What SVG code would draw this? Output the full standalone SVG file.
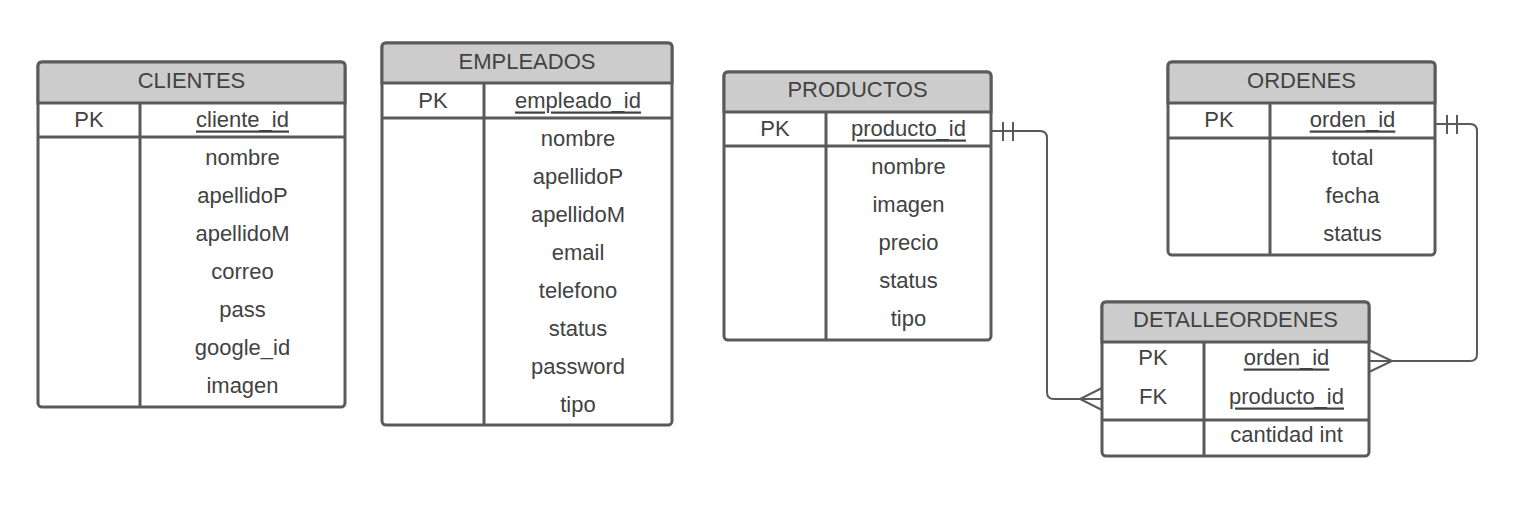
<svg xmlns="http://www.w3.org/2000/svg" width="1514" height="507" viewBox="0 0 1514 507">
<style>
.box{fill:#ffffff;stroke:#5a5a5a;stroke-width:3}
.hdr{fill:#cccccc;stroke:#5a5a5a;stroke-width:3}
.ln{stroke:#5a5a5a;stroke-width:3;fill:none}
.cn{stroke:#5a5a5a;stroke-width:2;fill:none}
text{font-family:"Liberation Sans",Arial,sans-serif;font-size:22px;fill:#424242;text-anchor:middle;dominant-baseline:central}
.u{text-decoration:underline}
</style>
<rect width="1514" height="507" fill="#ffffff"/>

<g id="clientes">
<rect class="box" x="38" y="62" width="307" height="345" rx="4"/>
<path class="hdr" d="M38,103 V66 Q38,62 42,62 H341 Q345,62 345,66 V103 Z"/>
<path class="ln" d="M38,137 H345 M140,103 V407"/>
<text x="191.5" y="80">CLIENTES</text>
<text x="89" y="119">PK</text>
<text x="242.5" y="119" class="u">cliente_id</text>
<text x="242.5" y="157">nombre</text>
<text x="242.5" y="195">apellidoP</text>
<text x="242.5" y="233">apellidoM</text>
<text x="242.5" y="271">correo</text>
<text x="242.5" y="309">pass</text>
<text x="242.5" y="347">google_id</text>
<text x="242.5" y="385">imagen</text>
</g>

<g id="empleados">
<rect class="box" x="382" y="43" width="290" height="382" rx="4"/>
<path class="hdr" d="M382,83 V47 Q382,43 386,43 H668 Q672,43 672,47 V83 Z"/>
<path class="ln" d="M382,118 H672 M484,83 V425"/>
<text x="527" y="61">EMPLEADOS</text>
<text x="433" y="100">PK</text>
<text x="578" y="100" class="u">empleado_id</text>
<text x="578" y="138">nombre</text>
<text x="578" y="176">apellidoP</text>
<text x="578" y="214">apellidoM</text>
<text x="578" y="252">email</text>
<text x="578" y="290">telefono</text>
<text x="578" y="328">status</text>
<text x="578" y="366">password</text>
<text x="578" y="404">tipo</text>
</g>

<g id="productos">
<rect class="box" x="724" y="72" width="267" height="268" rx="4"/>
<path class="hdr" d="M724,112 V76 Q724,72 728,72 H987 Q991,72 991,76 V112 Z"/>
<path class="ln" d="M724,146 H991 M826,112 V340"/>
<text x="857.5" y="89">PRODUCTOS</text>
<text x="775" y="128">PK</text>
<text x="908.5" y="128" class="u">producto_id</text>
<text x="908.5" y="166">nombre</text>
<text x="908.5" y="204">imagen</text>
<text x="908.5" y="242">precio</text>
<text x="908.5" y="280">status</text>
<text x="908.5" y="318">tipo</text>
</g>

<g id="ordenes">
<rect class="box" x="1168" y="62" width="267" height="193" rx="4"/>
<path class="hdr" d="M1168,103 V66 Q1168,62 1172,62 H1431 Q1435,62 1435,66 V103 Z"/>
<path class="ln" d="M1168,138 H1435 M1270,103 V255"/>
<text x="1301.5" y="80">ORDENES</text>
<text x="1219" y="119">PK</text>
<text x="1352.5" y="119" class="u">orden_id</text>
<text x="1352.5" y="157">total</text>
<text x="1352.5" y="195">fecha</text>
<text x="1352.5" y="233">status</text>
</g>

<g id="detalleordenes">
<rect class="box" x="1102" y="302" width="267" height="154" rx="4"/>
<path class="hdr" d="M1102,342 V306 Q1102,302 1106,302 H1365 Q1369,302 1369,306 V342 Z"/>
<path class="ln" d="M1102,420 H1369 M1204,342 V456"/>
<text x="1235.5" y="319">DETALLEORDENES</text>
<text x="1153" y="357">PK</text>
<text x="1286.5" y="357" class="u">orden_id</text>
<text x="1153" y="396">FK</text>
<text x="1286.5" y="396" class="u">producto_id</text>
<text x="1286.5" y="434">cantidad int</text>
</g>

<g id="connectors">
<path class="cn" d="M991,131 H1040 Q1047,131 1047,138 V392 Q1047,399 1054,399 H1102"/>
<path class="cn" d="M1003,122 V141 M1013,122 V141"/>
<path class="cn" d="M1102,388 L1080,399 L1102,410"/>
<path class="cn" d="M1435,124 H1470 Q1477,124 1477,131 V354 Q1477,361 1470,361 H1369"/>
<path class="cn" d="M1447,115 V134 M1457,115 V134"/>
<path class="cn" d="M1369,350 L1392,361 L1369,372"/>
</g>
</svg>
